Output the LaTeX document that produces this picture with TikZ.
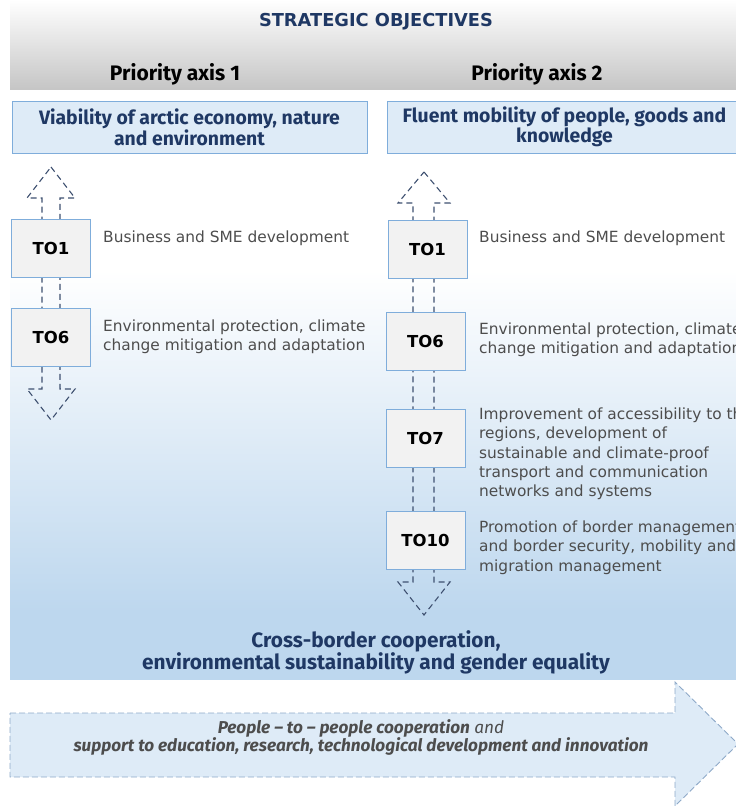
\documentclass[tikz,border=0pt]{standalone}
\usepackage{fontspec}
\setmainfont{DejaVu Sans}
\newfontfamily\headfont{Fira Sans}
\usepackage{xcolor}

\definecolor{navy}{HTML}{1F3864}
\definecolor{boxfill}{HTML}{DEEBF7}
\definecolor{boxline}{HTML}{7FADDB}
\definecolor{tofill}{HTML}{F2F2F2}
\definecolor{dashcol}{HTML}{3E5070}
\definecolor{bigdash}{HTML}{8EA9C8}
\definecolor{descgray}{HTML}{4D4D4D}
\definecolor{bandblue}{HTML}{BDD7EE}

\begin{document}
\begin{tikzpicture}[x=1pt, y=-1pt,
    tobox/.style={draw=boxline, fill=tofill, line width=1pt, minimum width=79pt, minimum height=58pt, inner sep=0pt, font=\fontsize{16.5}{18}\selectfont\bfseries},
    axisbox/.style={draw=boxline, fill=boxfill, line width=1pt, minimum height=52pt, inner sep=0pt, align=center, text=navy, font=\headfont\fontsize{19.4}{20}\selectfont\bfseries},
    desc/.style={anchor=north west, align=left, inner sep=0pt, text=descgray, font=\fontsize{15.4}{19.4}\selectfont},
    arrowdash/.style={draw=dashcol, line width=1.1pt, dash pattern=on 6pt off 4pt},
    heading/.style={inner sep=0pt, font=\headfont\fontsize{21}{22}\selectfont\bfseries}]
    \useasboundingbox (0,0) rectangle (736,806);

    % background
    \shade[top color=white, bottom color=gray!45] (10,0) rectangle (736,89);
    \shade[top color=white, bottom color=bandblue] (10,270) rectangle (736,612);
    \fill[bandblue] (10,611) rectangle (736,680);

    \node[inner sep=0pt, text=navy, font=\fontsize{17.8}{20}\selectfont\bfseries] (so) at (376,22) {STRATEGIC OBJECTIVES};
    \node[heading] (pa1) at (175,74) {Priority axis 1};
    \node[heading] (pa2) at (537,74) {Priority axis 2};

    \node[axisbox, minimum width=355pt] (ax1) at (189.5,127) {Viability of arctic economy, nature\\and environment};
    \node[axisbox, minimum width=355pt] (ax2) at (564.5,127) {Fluent mobility of people, goods and\\knowledge};

    % dashed double arrows behind the boxes
    \coordinate (lt) at (51,167);
    \coordinate (lb) at (51,420);
    \draw[arrowdash] (lt) -- (75,198) -- (60,198) -- (60,389) -- (75,389) -- (lb) -- (27,389) -- (42,389) -- (42,198) -- (27,198) -- cycle;
    \coordinate (rt) at (424,172);
    \coordinate (rb) at (424,615);
    \draw[arrowdash] (rt) -- (450,203) -- (434,203) -- (434,582) -- (450,582) -- (rb) -- (398,582) -- (413,582) -- (413,203) -- (398,203) -- cycle;

    % priority axis 1
    \node[tobox] (a1) at (51,248) {TO1};
    \node[tobox] (a6) at (51,337.5) {TO6};
    \node[desc] (d1) at (103,230.3) {Business and SME development};
    \node[desc] (d6) at (103,319.3) {Environmental protection, climate\\change mitigation and adaptation};

    % priority axis 2
    \node[tobox] (b1) at (427.5,249) {TO1};
    \node[tobox] (b6) at (425.5,341) {TO6};
    \node[tobox] (b7) at (425.5,438.5) {TO7};
    \node[tobox] (b10) at (425.5,540.5) {TO10};
    \node[desc] (e1) at (479,230.3) {Business and SME development};
    \node[desc] (e6) at (479,322.3) {Environmental protection, climate\\change mitigation and adaptation};
    \node[desc] (e7) at (479,407.3) {Improvement of accessibility to the\\regions, development of\\sustainable and climate-proof\\transport and communication\\networks and systems};
    \node[desc] (e10) at (479,520.3) {Promotion of border management\\and border security, mobility and\\migration management};

    % horizontal themes
    \node[heading, text=navy, align=center, font=\headfont\fontsize{20.8}{22}\selectfont\bfseries] (cb) at (376,652) {Cross-border cooperation,\\environmental sustainability and gender equality};

    \draw[draw=bigdash, fill=boxfill, line width=0.9pt, dash pattern=on 6pt off 3pt]
        (10,713) -- (675,713) -- (675,682) -- (738,744) -- (675,806) -- (675,777) -- (10,777) -- cycle;
    \node[align=center, inner sep=0pt, text=descgray, font=\headfont\fontsize{17.2}{18}\selectfont\itshape] (pp) at (361,737)
        {\textbf{People – to – people cooperation} and\\\textbf{support to education, research, technological development and innovation}};
\end{tikzpicture}
\end{document}
